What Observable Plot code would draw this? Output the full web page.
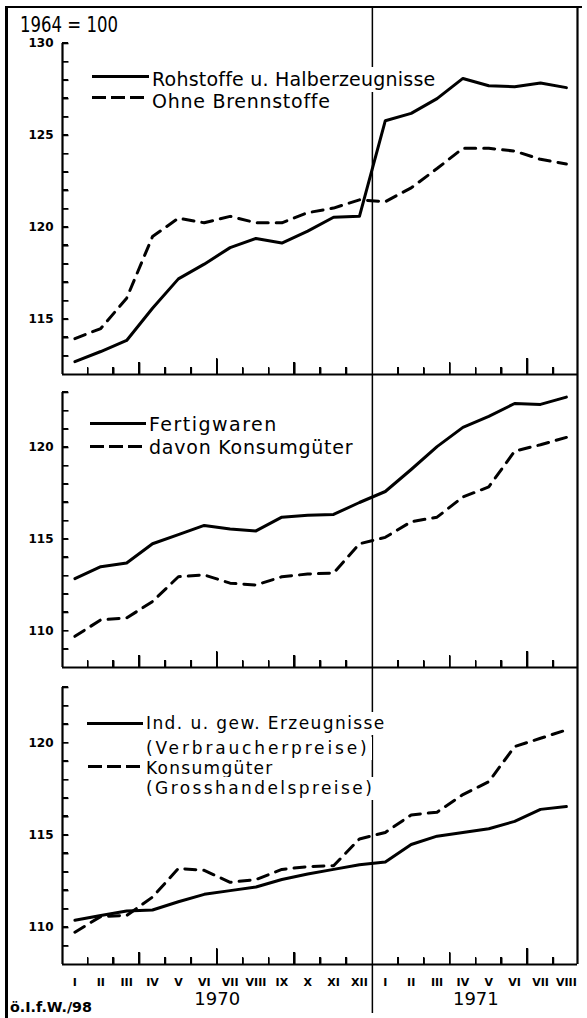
<!DOCTYPE html>
<html><head><meta charset="utf-8">
<script src="https://cdn.jsdelivr.net/npm/d3@7"></script>
<script src="https://cdn.jsdelivr.net/npm/@observablehq/plot@0.6"></script>
<style>
html,body{margin:0;padding:0;background:#fff;}
#chart{position:relative;width:587px;height:1018px;overflow:hidden;font-family:"DejaVu Sans",sans-serif;color:#000;background:#fff;}
.pl{position:absolute;left:0;}
.txt{position:absolute;white-space:nowrap;line-height:1;}
.ln{position:absolute;}
</style></head><body><div id="chart"></div>
<script>
// ---- data ----
const months1970 = ["I","II","III","IV","V","VI","VII","VIII","IX","X","XI","XII"];
const months1971 = ["I","II","III","IV","V","VI","VII","VIII"];
const years = ["1970","1971"];
const baseLabel = "1964 = 100";
const sourceLabel = "ö.I.f.W./98";

const rohstoffe       = [112.7,113.25,113.85,115.6,117.2,118.0,118.9,119.4,119.15,119.8,120.55,120.6,125.8,126.2,127.0,128.1,127.7,127.65,127.85,127.6];
const ohneBrennstoffe = [113.95,114.5,116.15,119.5,120.5,120.25,120.6,120.25,120.25,120.8,121.05,121.5,121.4,122.15,123.2,124.3,124.3,124.15,123.7,123.45];
const fertigwaren     = [112.85,113.5,113.7,114.75,115.25,115.75,115.55,115.45,116.2,116.3,116.35,117.0,117.6,118.8,120.05,121.1,121.7,122.4,122.35,122.75];
const konsumgueter    = [109.7,110.6,110.7,111.6,112.95,113.05,112.6,112.5,112.95,113.1,113.15,114.75,115.1,115.95,116.2,117.3,117.85,119.8,120.15,120.55];
const indGewErzeugnisse = [110.4,110.65,110.9,110.95,111.4,111.8,112.0,112.2,112.6,112.9,113.15,113.4,113.55,114.5,114.95,115.15,115.35,115.75,116.4,116.55];
const konsumGrosshandel = [109.75,110.6,110.65,111.65,113.2,113.1,112.45,112.6,113.15,113.3,113.35,114.8,115.15,116.1,116.25,117.2,117.9,119.8,120.25,120.7];

const yTicksTop = [115,120,125,130];
const yTicksLower = [110,115,120];

const legendTop = [["Rohstoffe u. Halberzeugnisse"],["Ohne Brennstoffe"]];
const legendMid = [["Fertigwaren"],["davon Konsumgüter"]];
const legendLow = [["Ind. u. gew. Erzeugnisse","(Verbraucherpreise)"],["Konsumgüter","(Grosshandelspreise)"]];

// ---- layout ----
const monthLabels = months1970.concat(months1971);
const idx = d3.range(monthLabels.length);
const breakX = months1970.length - 0.5;
const W = 587, mL = 62, mR = 10;
const xDomain = [-0.48, 19.43];
const DASH = "11,8";
const chart = document.getElementById("chart");

function box(l, t, w, h, bg) {
  const d = document.createElement("div");
  d.className = "ln";
  Object.assign(d.style, {left: l + "px", top: t + "px", width: w + "px", height: h + "px", background: bg || "#000"});
  chart.appendChild(d);
  return d;
}

function makePanel(p) {
  const innerW = W - mL - mR;
  const innerH = p.height - p.marginTop - p.marginBottom;
  const kx = (xDomain[1] - xDomain[0]) / innerW;
  const ky = (p.yDomain[1] - p.yDomain[0]) / innerH;
  const yMin = p.yDomain[0];
  const bounds = d3.range(0.5, monthLabels.length - 1, 1).filter(b => b !== breakX);
  const tickLen = b => ((b + 0.5) % 6 === 0 ? 16 : (b + 0.5) % 3 === 0 ? 12 : 7);
  const yMinor = d3.range(p.yDomain[0] + 1, p.yDomain[1] + 1);
  const marks = [
    Plot.link(yMinor, {x1: () => xDomain[0], x2: () => xDomain[0] + 6 * kx, y1: d => d, y2: d => d, stroke: "#000", strokeWidth: 1.6}),
    Plot.link(bounds, {x1: d => d, x2: d => d, y1: () => yMin, y2: d => yMin + tickLen(d) * ky, stroke: "#000", strokeWidth: 1.6}),
    Plot.ruleX([xDomain[0]], {stroke: "#000", strokeWidth: 2.2}),
    Plot.ruleY([p.yDomain[0]], {stroke: "#000", strokeWidth: 2.2}),
    Plot.ruleX([xDomain[1]], {stroke: "#000", strokeWidth: 2.2, insetTop: -p.extendTop}),
    Plot.ruleX([breakX], {stroke: "#000", strokeWidth: 1.5, insetTop: -p.extendTop, insetBottom: -p.extendBottom}),
    ...p.series.map(s => Plot.line(idx, {x: i => i, y: i => s.values[i], stroke: "#000", strokeWidth: 3,
      strokeDasharray: s.dashed ? DASH : null, strokeLinejoin: "round", strokeLinecap: "round"})),
    Plot.axisY(p.yTicks, {tickSize: 0, tickPadding: 9, fontSize: 12, fontWeight: "bold", label: null})
  ];
  if (p.xAxis) {
    marks.push(Plot.axisX(idx, {tickSize: 0, tickPadding: 14, tickFormat: i => monthLabels[i], fontSize: 11, fontWeight: "bold", label: null}));
    const yearIdx = [d3.range(months1970.length), d3.range(months1970.length, monthLabels.length)];
    marks.push(Plot.text(years, {x: (d, i) => d3.mean(yearIdx[i]), frameAnchor: "bottom", dy: 40, fontSize: 18, text: d => d}));
  }
  const svg = Plot.plot({
    width: W, height: p.height,
    marginLeft: mL, marginRight: mR, marginTop: p.marginTop, marginBottom: p.marginBottom,
    x: {domain: xDomain, axis: p.xAxis ? undefined : null},
    y: {domain: p.yDomain},
    style: {fontFamily: "DejaVu Sans", background: "transparent", overflow: "visible", color: "#000"},
    marks
  });
  svg.classList.add("pl");
  svg.style.top = p.top + "px";
  chart.appendChild(svg);

  // tick marks also laid out from the plot's own scales (HTML copy so they always show)
  const xs = svg.scale("x"), ys = svg.scale("y");
  const x0 = xs.apply(xDomain[0]), yb = p.top + ys.apply(yMin);
  for (const v of yMinor) box(x0, p.top + ys.apply(v) - 0.8, 6, 1.6);
  for (const b of bounds) box(xs.apply(b) - 0.8, yb - tickLen(b), 1.6, tickLen(b));
  return svg;
}

makePanel({series: [{values: rohstoffe}, {values: ohneBrennstoffe, dashed: true}], yDomain: [112, 130], yTicks: yTicksTop,
  top: 0, height: 374, marginTop: 43, marginBottom: 0, extendTop: 36, extendBottom: 0});
makePanel({series: [{values: fertigwaren}, {values: konsumgueter, dashed: true}], yDomain: [108, 123], yTicks: yTicksLower,
  top: 374, height: 293, marginTop: 18, marginBottom: 0, extendTop: 18, extendBottom: 0});
makePanel({series: [{values: indGewErzeugnisse}, {values: konsumGrosshandel, dashed: true}], yDomain: [108, 123], yTicks: yTicksLower,
  top: 667, height: 351, marginTop: 20, marginBottom: 54, extendTop: 20, extendBottom: 49, xAxis: true});

// ---- frame decoration ----
box(5, 6, 3, 1012);
box(5, 6, 577, 2);

// ---- text helpers ----
function addText(text, x, baseline, size, opts = {}) {
  const d = document.createElement("div");
  d.className = "txt";
  const pad = opts.bg ? 3 : 0;
  Object.assign(d.style, {left: (x - pad) + "px", top: (baseline - 0.846 * size - pad) + "px", fontSize: size + "px",
    fontWeight: opts.bold ? "bold" : "normal", padding: pad + "px", background: opts.bg ? "#fff" : "transparent"});
  const s = document.createElement("span");
  s.textContent = text;
  d.appendChild(s);
  chart.appendChild(d);
  if (opts.width) {
    const w = s.getBoundingClientRect().width;
    if (opts.scale) {
      s.style.display = "inline-block";
      s.style.transformOrigin = "0 0";
      s.style.transform = `scaleX(${opts.width / w})`;
    } else {
      s.style.letterSpacing = ((opts.width - w) / (text.length - 0.5)) + "px";
    }
  }
  return d;
}
function sample(x1, x2, y, dashed) {
  const d = box(x1, y - 1.5, x2 - x1, 3);
  if (dashed) d.style.background = "repeating-linear-gradient(90deg,#000 0 14px,transparent 14px 19px)";
}

addText(baseLabel, 20, 33, 21, {width: 98, scale: true});
addText(sourceLabel, 10, 1012, 14, {bold: true, width: 82, scale: true});
// panel 1 legend
sample(92, 150, 76, false);
sample(92, 150, 97, true);
addText(legendTop[0][0], 152, 86, 19, {bg: true, width: 283});
addText(legendTop[1][0], 152, 108, 19, {bg: true, width: 178});
// panel 2 legend
sample(90, 148, 423, false);
sample(90, 148, 446, true);
addText(legendMid[0][0], 149, 431, 19, {bg: true, width: 128});
addText(legendMid[1][0], 149, 454, 19, {bg: true, width: 204});
// panel 3 legend
sample(87, 145, 723, false);
sample(88, 145, 766, true);
addText(legendLow[0][0], 146, 729, 17, {bg: true, width: 239});
addText(legendLow[0][1], 146, 754, 17, {bg: true, width: 222});
addText(legendLow[1][0], 146, 774, 17, {bg: true, width: 127});
addText(legendLow[1][1], 146, 794, 17, {bg: true, width: 227});
</script></body></html>
